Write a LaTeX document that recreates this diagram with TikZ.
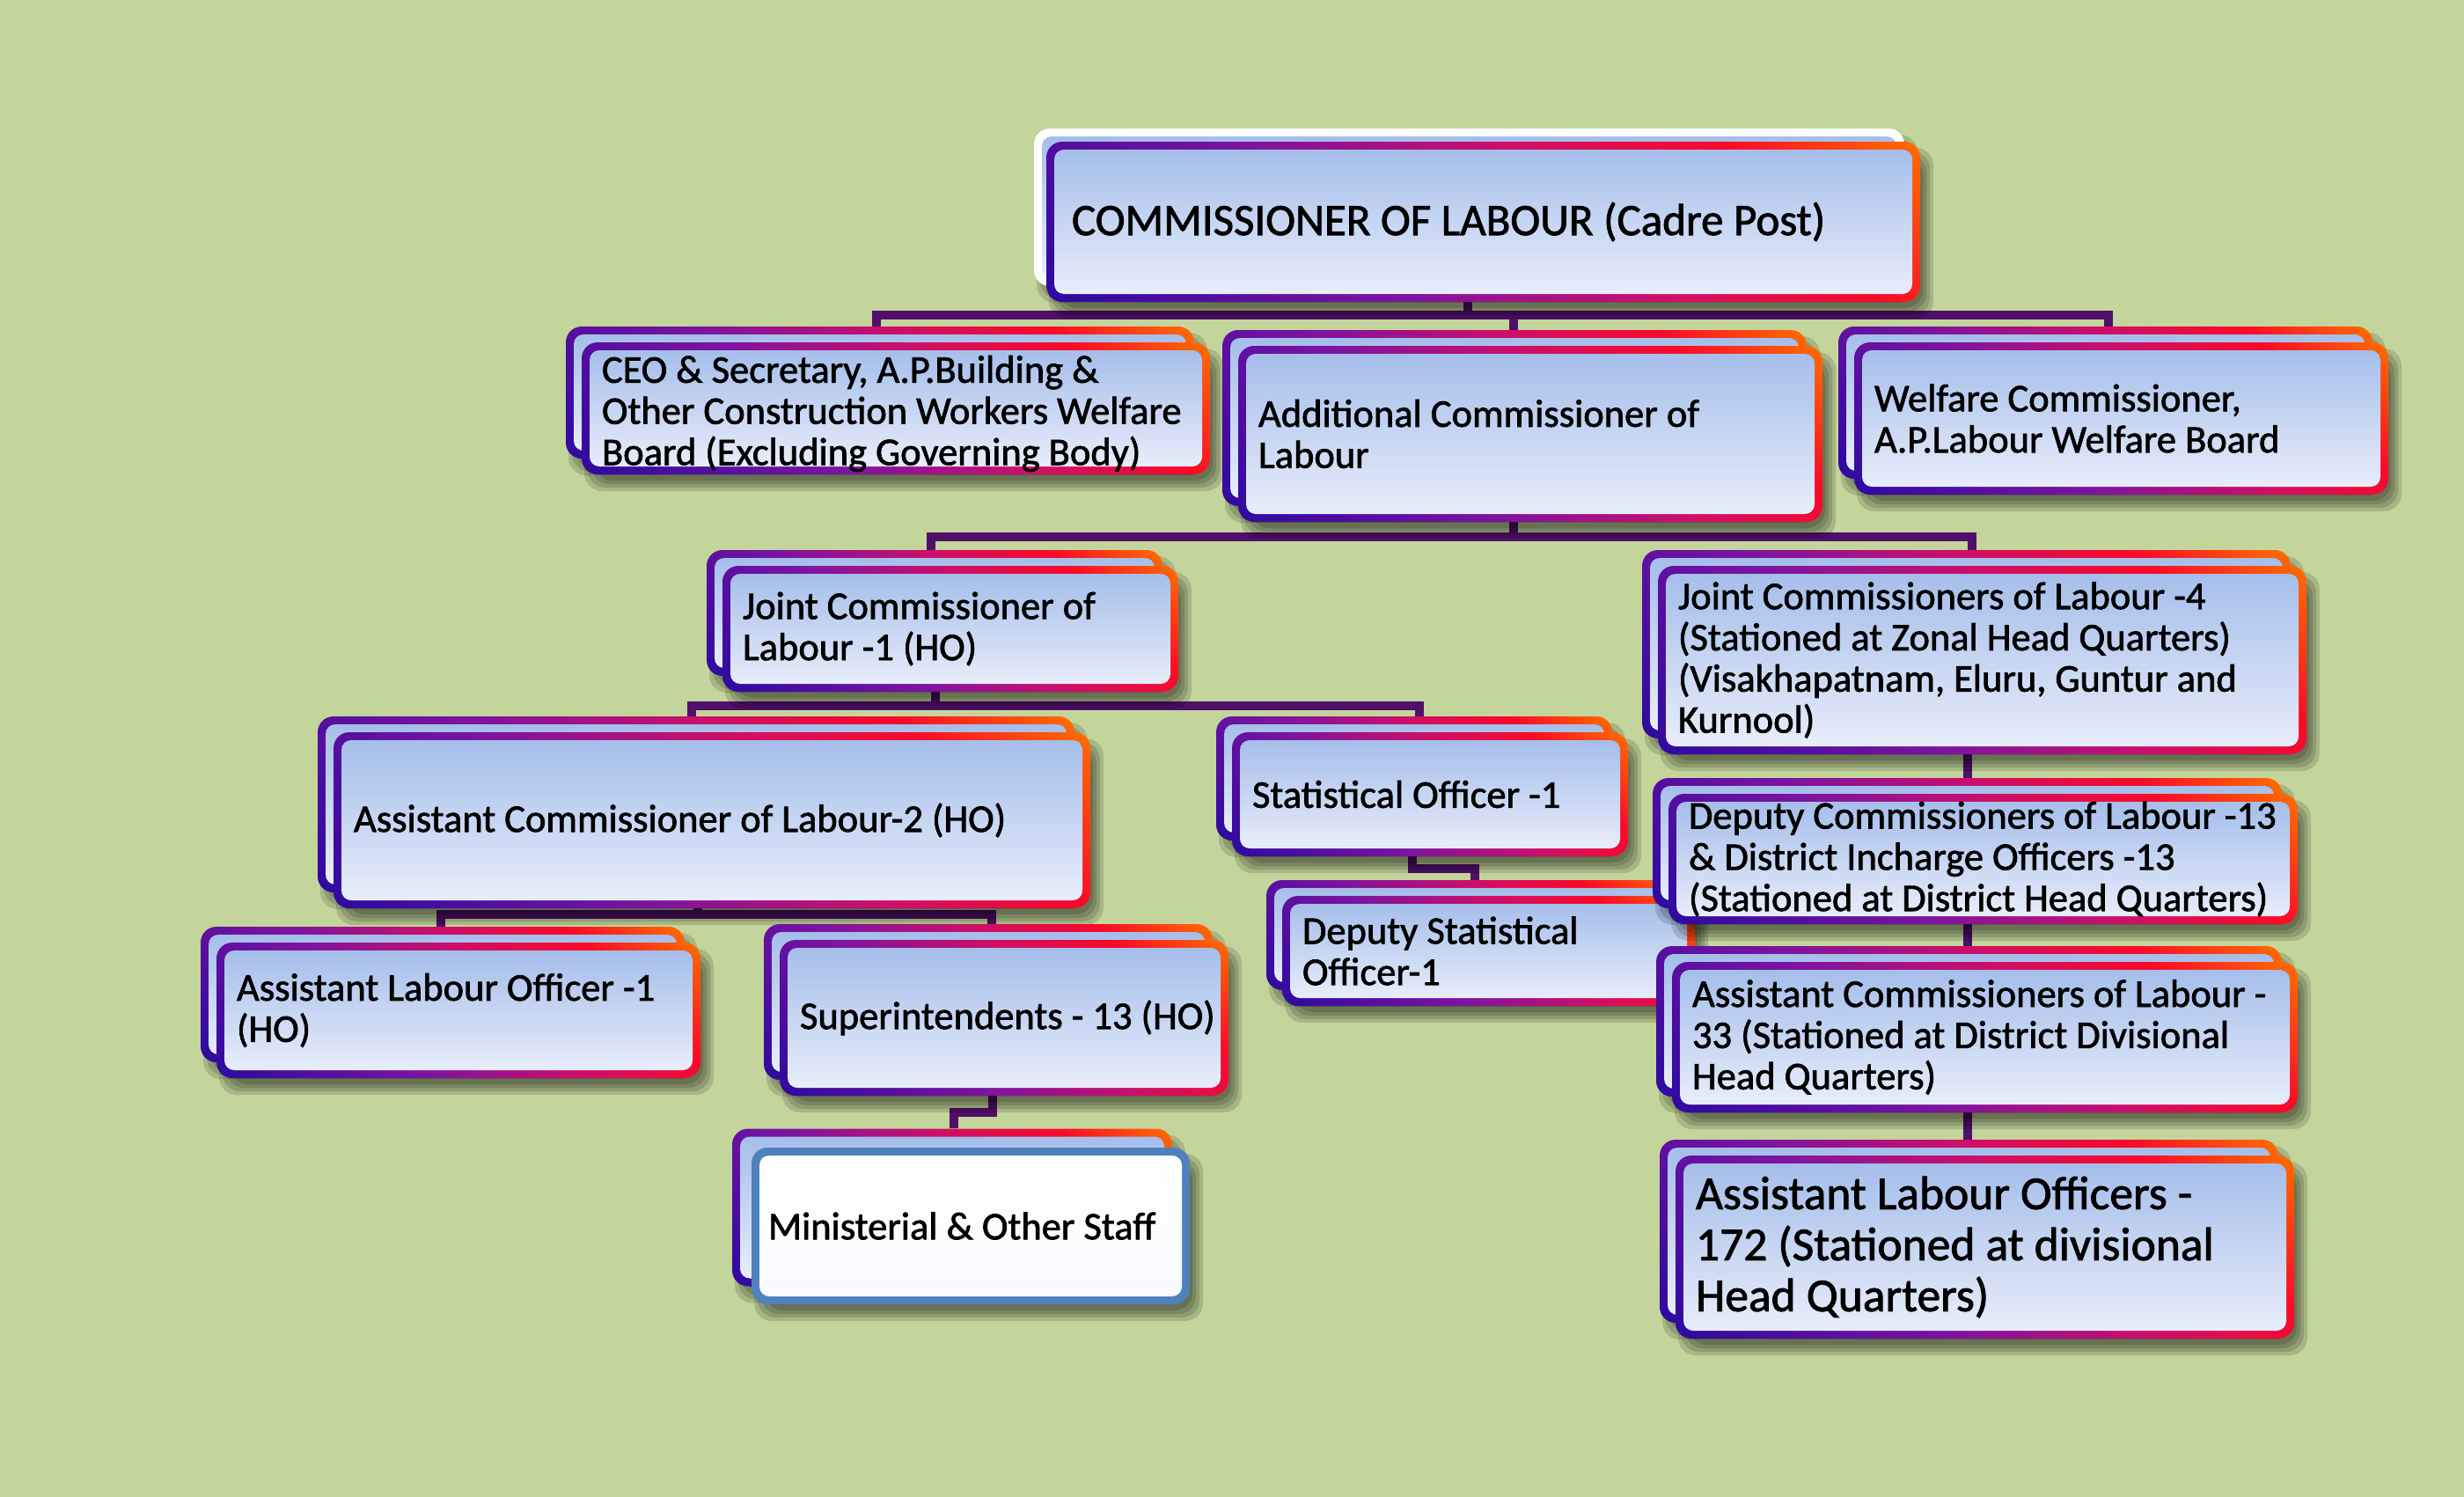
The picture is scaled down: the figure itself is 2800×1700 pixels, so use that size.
\documentclass[tikz,border=0pt]{standalone}
\usepackage{fontspec}
\setmainfont{Carlito}
\newfontfamily\orgfont{Carlito}[FakeBold=1.6]
\pgfdeclarelayer{back}
\pgfdeclarelayer{lines}
\pgfsetlayers{back,lines,main}
\definecolor{bgc}{RGB}{195,213,155}
\definecolor{bA}{RGB}{45,10,160}
\definecolor{bB}{RGB}{125,20,160}
\definecolor{bC}{RGB}{205,15,105}
\definecolor{bD}{RGB}{250,10,40}
\definecolor{bE}{RGB}{255,110,0}
\definecolor{fT}{RGB}{165,190,234}
\definecolor{fB}{RGB}{232,237,250}
\definecolor{connc}{RGB}{80,15,105}
\definecolor{minb}{RGB}{79,129,189}
\pgfdeclarehorizontalshading{brd}{100bp}{color(0bp)=(bA); color(14.6bp)=(bA); color(39.4bp)=(bB); color(57.1bp)=(bC); color(72bp)=(bD); color(85.4bp)=(bE); color(100bp)=(bE)}
\tikzset{
  outerc/.style={rectangle, rounded corners=18pt, inner sep=0pt, shade, shading=brd, shading angle=45},
  innerc/.style={rectangle, rounded corners=11pt, inner sep=0pt, top color=fT, bottom color=fB},
  shadowfill/.style={fill=black, fill opacity=0.14, rounded corners=20pt},
  txt/.style={inner sep=0pt, align=left, text=black, font=\orgfont\fontsize{44.5pt}{46.8pt}\selectfont},
  txtbig/.style={inner sep=0pt, align=left, text=black, font=\orgfont\fontsize{53.5pt}{58pt}\selectfont},
  txttitle/.style={inner sep=0pt, align=left, text=black, font=\orgfont\fontsize{51pt}{56pt}\selectfont},
  conn/.style={line width=10pt, draw=connc, line join=miter},
}
% soft shadow: cx, cy, w, h
\newcommand\softshadow[4]{%
  \foreach \s in {-6,-2,2,6}{%
    \fill[shadowfill] ({#1+9-#3/2-\s},{#2+13-#4/2-\s}) rectangle ({#1+9+#3/2+\s},{#2+13+#4/2+\s});
  }%
}
% name, cx, cy, w, h, text style, text
\newcommand\orgcard[8][0]{%
  \softshadow{#3-18}{#4-18}{#5}{#6}%
  \node[outerc, minimum width=#5pt, minimum height=#6pt] (#2-b) at (#3-18,#4-18) {};
  \node[innerc, minimum width=#5pt-18pt, minimum height=#6pt-18pt] (#2-bi) at (#2-b) {};
  \softshadow{#3}{#4}{#5}{#6}%
  \node[outerc, minimum width=#5pt, minimum height=#6pt] (#2) at (#3,#4) {};
  \node[innerc, minimum width=#5pt-18pt, minimum height=#6pt-18pt] (#2-i) at (#2) {};
  \node[#7, anchor=west] (#2-t) at ([xshift=23pt,yshift=-#1pt]#2.west) {#8};
}
\begin{document}
\begin{tikzpicture}[x=1pt,y=-1pt]
\useasboundingbox (0,0) rectangle (2800,1700);
\begin{pgfonlayer}{back}
\fill[bgc] (-10,-10) rectangle (2810,1710);
\end{pgfonlayer}

% top box
\softshadow{1669.5}{235.5}{989}{179}
\node[rectangle, rounded corners=18pt, inner sep=0pt, fill=white, minimum width=989pt, minimum height=179pt] (com-b) at (1669.5,235.5) {};
\node[innerc, minimum width=971pt, minimum height=161pt] (com-bi) at (com-b) {};
\softshadow{1685.5}{252}{993}{182}
\node[outerc, minimum width=993pt, minimum height=182pt] (com) at (1685.5,252) {};
\node[innerc, minimum width=975pt, minimum height=164pt] (com-i) at (com) {};
\node[txttitle, anchor=west] (com-t) at ([xshift=29pt]com.west) {COMMISSIONER OF LABOUR (Cadre Post)};

\orgcard[6]{ceo}{1018}{464}{714}{150}{txt}{CEO \& Secretary, A.P.Building \&\\Other Construction Workers Welfare\\Board (Excluding Governing Body)}
\orgcard{add}{1739}{493}{664}{200}{txt}{Additional Commissioner of\\Labour}
\orgcard{wel}{2410.5}{475.5}{607}{173}{txt}{Welfare Commissioner,\\A.P.Labour Welfare Board}
\orgcard{jc1}{1080}{714.5}{518}{143}{txt}{Joint Commissioner of\\Labour -1 (HO)}
\orgcard{jc4}{2252.5}{750}{737}{214}{txt}{Joint Commissioners of Labour -4\\(Stationed at Zonal Head Quarters)\\(Visakhapatnam, Eluru, Guntur and\\Kurnool)}
\orgcard{ac2}{809}{932}{860}{200}{txt}{Assistant Commissioner of Labour-2 (HO)}
\orgcard{stat}{1625}{902.5}{450}{141}{txt}{Statistical Officer -1}
\orgcard{dstat}{1691.5}{1080.5}{469}{125}{txt}{Deputy Statistical\\Officer-1}
\orgcard{dc13}{2253.5}{976}{715}{148}{txt}{Deputy Commissioners of Labour -13\\\& District Incharge Officers -13\\(Stationed at District Head Quarters)}
\orgcard{ac33}{2255.5}{1178.5}{711}{171}{txt}{Assistant Commissioners of Labour -\\33 (Stationed at District Divisional\\Head Quarters)}
\orgcard{alo172}{2255.5}{1417}{703}{208}{txtbig}{Assistant Labour Officers -\\172 (Stationed at divisional\\Head Quarters)}
\orgcard{alo1}{521}{1148}{550}{154}{txt}{Assistant Labour Officer -1\\(HO)}
\orgcard{sup}{1141}{1156.5}{510}{177}{txt}{Superintendents - 13 (HO)}

% ministerial staff
\softshadow{1082}{1372}{500}{179}
\node[outerc, minimum width=500pt, minimum height=179pt] (min-b) at (1082,1372) {};
\node[innerc, minimum width=482pt, minimum height=161pt] (min-bi) at (min-b) {};
\softshadow{1103}{1393}{498}{178}
\node[rectangle, rounded corners=18pt, inner sep=0pt, fill=minb, minimum width=498pt, minimum height=178pt] (min) at (1103,1393) {};
\node[rectangle, rounded corners=11pt, inner sep=0pt, top color=white, bottom color=white!92!fT, minimum width=480pt, minimum height=160pt] (min-i) at (min) {};
\node[txt, anchor=west] (min-t) at ([xshift=19pt]min.west) {Ministerial \& Other Staff};

% connectors
\begin{pgfonlayer}{lines}
\coordinate (k1) at (1668,358); \coordinate (a1) at (1720,358);
\coordinate (l1) at (996,358);  \coordinate (r1) at (2396,358);
\draw[conn] (com.south -| k1) -- (k1);
\draw[conn] (a1) -- (add-b.north -| a1);
\draw[conn] (ceo-b.north -| l1) -- (l1) -- (r1) -- (wel-b.north -| r1);

\coordinate (a2) at (1720,610);
\coordinate (l2) at (1058,610); \coordinate (r2) at (2241,610);
\draw[conn] (add.south -| a2) -- (a2);
\draw[conn] (jc1-b.north -| l2) -- (l2) -- (r2) -- (jc4-b.north -| r2);

\coordinate (a3) at (1063,802);
\coordinate (l3) at (786,802); \coordinate (r3) at (1613,802);
\draw[conn] (jc1.south -| a3) -- (a3);
\draw[conn] (ac2-b.north -| l3) -- (l3) -- (r3) -- (stat-b.north -| r3);

\coordinate (a4) at (793,1039);
\coordinate (l4) at (501,1039); \coordinate (r4) at (1127,1039);
\draw[conn] (ac2.south -| a4) -- (a4);
\draw[conn] (alo1-b.north -| l4) -- (l4) -- (r4) -- (sup-b.north -| r4);

\coordinate (s1) at (1605,987); \coordinate (s2) at (1676,987);
\draw[conn] (stat.south -| s1) -- (s1) -- (s2) -- (dstat-b.north -| s2);

\coordinate (m1) at (1128,1264); \coordinate (m2) at (1084,1264);
\draw[conn] (sup.south -| m1) -- (m1) -- (m2) -- (min-b.north -| m2);

\coordinate (rc) at (2236,0);
\draw[conn] (jc4.south -| rc) -- (dc13-b.north -| rc);
\draw[conn] (dc13.south -| rc) -- (ac33-b.north -| rc);
\draw[conn] (ac33.south -| rc) -- (alo172-b.north -| rc);
\end{pgfonlayer}
\end{tikzpicture}
\end{document}
